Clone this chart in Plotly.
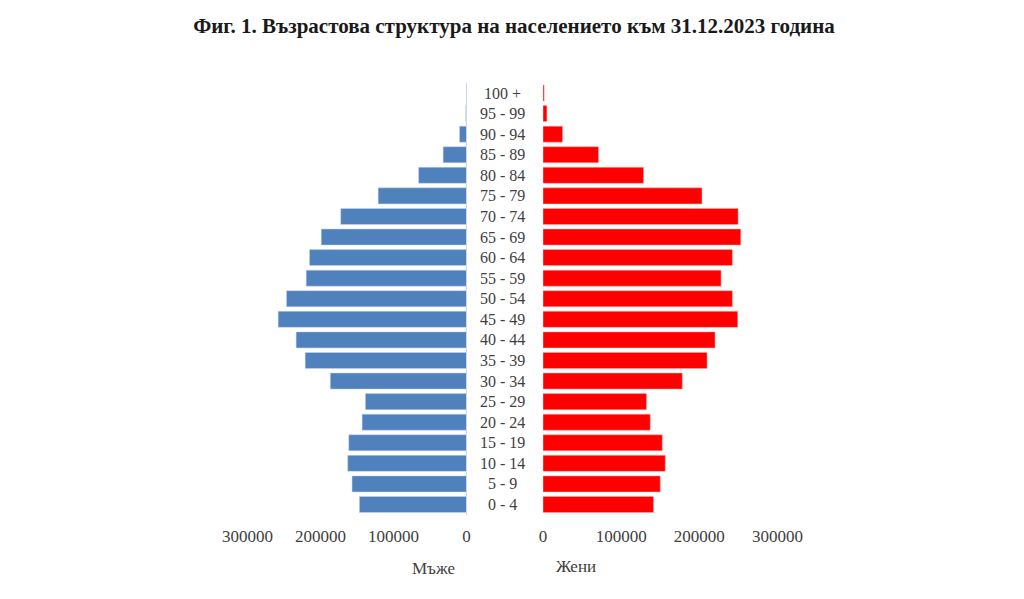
import plotly.graph_objects as go

age_groups = ["0 - 4", "5 - 9", "10 - 14", "15 - 19", "20 - 24", "25 - 29", "30 - 34",
              "35 - 39", "40 - 44", "45 - 49", "50 - 54", "55 - 59", "60 - 64", "65 - 69",
              "70 - 74", "75 - 79", "80 - 84", "85 - 89", "90 - 94", "95 - 99", "100 +"]
men = [146700, 156800, 162700, 161300, 143000, 138500, 186600, 221000, 233400, 258000,
       246600, 219600, 215000, 199000, 172300, 121000, 65600, 32000, 9600, 1000, 150]
women = [141400, 150000, 156400, 152600, 137200, 132400, 178200, 209900, 220100, 249100,
         242300, 227800, 242300, 253000, 249600, 203400, 128600, 71000, 25000, 5000, 1500]
tick_vals = [0, 100000, 200000, 300000]
tick_text = ["0", "100000", "200000", "300000"]

W, H = 1024, 599
serif = "Liberation Serif, Times New Roman, serif"
txt = "#404040"

fig = go.Figure()
fig.add_trace(go.Bar(y=age_groups, x=men, orientation="h", xaxis="x", yaxis="y",
                     marker=dict(color="#4F81BD", line=dict(width=0.5, color="#c9d6ea")),
                     name="Мъже", showlegend=False))
fig.add_trace(go.Bar(y=age_groups, x=women, orientation="h", xaxis="x2", yaxis="y",
                     marker=dict(color="#FF0000", line=dict(width=0.5, color="#ffb0b0")),
                     name="Жени", showlegend=False))

y_bottom = 1 - 515 / H
y_top = 1 - 82.5 / H

fig.update_layout(
    width=W, height=H,
    margin=dict(l=0, r=0, t=0, b=0, autoexpand=False),
    paper_bgcolor="white", plot_bgcolor="white",
    showlegend=False,
    bargap=0.22,
    title=dict(text="<b>Фиг. 1. Възрастова структура на населението към 31.12.2023 година</b>",
               x=514 / W, xanchor="center", y=1 - 26 / H, yanchor="middle",
               font=dict(family=serif, size=21, color="#1a1a1a")),
    xaxis=dict(domain=[247.5 / W, 466.5 / W], range=[300000, 0], tickvals=tick_vals, ticktext=tick_text,
               showgrid=False, zeroline=False, showline=False, automargin=False,
               ticks="outside", ticklen=6, tickcolor="rgba(0,0,0,0)",
               tickfont=dict(family=serif, size=17, color=txt), anchor="y"),
    xaxis2=dict(domain=[543 / W, 777.5 / W], range=[0, 300000], tickvals=tick_vals, ticktext=tick_text,
                showgrid=False, zeroline=False, showline=False, automargin=False,
                ticks="outside", ticklen=6, tickcolor="rgba(0,0,0,0)",
                tickfont=dict(family=serif, size=17, color=txt), anchor="y"),
    yaxis=dict(domain=[y_bottom, y_top], type="category", categoryorder="array",
               categoryarray=age_groups, showticklabels=False, showgrid=False,
               zeroline=False, showline=False, automargin=False, anchor="x"),
    shapes=[dict(type="line", xref="paper", yref="paper", x0=466.5 / W, x1=466.5 / W,
                 y0=y_bottom, y1=y_top, line=dict(color="#d0d8e4", width=1))],
)

annotations = []
for g in age_groups:
    annotations.append(dict(x=502.5 / W, xref="paper", y=g, yref="y", text=g, showarrow=False,
                            xanchor="center", yanchor="middle",
                            font=dict(family=serif, size=16, color=txt)))
annotations.append(dict(x=433.5 / W, xref="paper", y=1 - 568 / H, yref="paper", text="Мъже",
                        showarrow=False, xanchor="center", yanchor="middle",
                        font=dict(family=serif, size=17, color=txt)))
annotations.append(dict(x=576 / W, xref="paper", y=1 - 566 / H, yref="paper", text="Жени",
                        showarrow=False, xanchor="center", yanchor="middle",
                        font=dict(family=serif, size=17, color=txt)))
fig.update_layout(annotations=annotations)

fig.write_html("out.html")
